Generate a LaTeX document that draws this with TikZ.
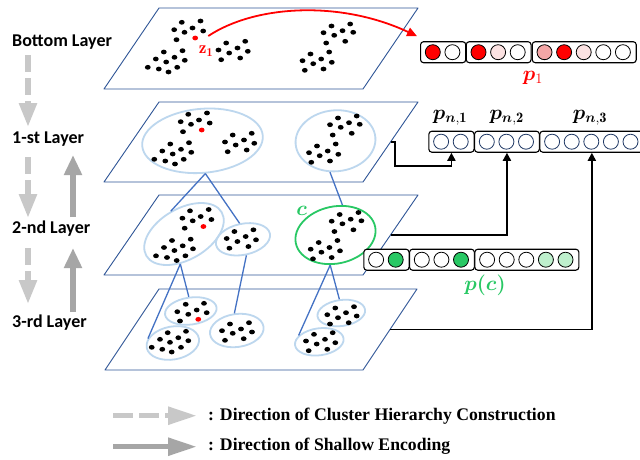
\documentclass[tikz,border=0pt]{standalone}
\usepackage{amsmath,bm}
\usepackage{fontspec}
\newfontfamily\calfont{Carlito}
\newfontfamily\timesfont{Liberation Serif}
\usetikzlibrary{arrows.meta,shapes.geometric,calc}
\definecolor{planeblue}{RGB}{47,85,151}
\definecolor{linkblue}{RGB}{68,114,196}
\definecolor{clublue}{RGB}{189,215,238}
\definecolor{cgreen}{RGB}{40,200,100}
\definecolor{lgreen}{RGB}{190,240,205}
\definecolor{cred}{RGB}{255,0,0}
\definecolor{lpink}{RGB}{252,226,226}
\definecolor{mpink}{RGB}{244,166,166}
\definecolor{navy}{RGB}{31,56,100}
\definecolor{dgrey}{RGB}{200,200,200}
\definecolor{sgrey}{RGB}{166,166,166}
\newcommand{\vecbox}[6]{%
  \node[vbox, minimum width={#4*19.6pt+6pt}] (#1) at (#2,#3) {};
  \foreach \col [count=\i] in {#6} {\node[cir, draw=#5, fill=\col] (#1-\i) at ([xshift={12.8pt+(\i-1)*19.6pt}]#1.west) {};}
}
\newcommand{\basedots}{%
  \foreach \x/\y in {188.3/114.3,207/113,180.7/121.7,191/124.3,199/120,209.7/123,183/131.7,
    170.3/144,189/142.7,162.3/151,172.7/154,181/149.3,191.3/152.3,154.3/159.3,165.3/161,175/164,183.7/159.3,
    232.7/135,251.7/133.3,225/142,235.7/145,244/140,254.3/143.3,227.7/151.7,246.7/150,
    338/118,356.7/116,330/124.7,340.7/127.3,349/122.7,359.7/124.3,332.7/135,351.7/133.3,
    317/146,335.7/144,309/152.7,319.7/155.7,327.7/151,338.3/154.3,311.3/162.3,330/161}
    {\fill (\x,\y) ellipse [x radius=2.9, y radius=2.4];}
}
\begin{document}
\begin{tikzpicture}[x=1pt,y=-1pt,
  plane/.style={draw=planeblue, line width=0.9pt, line join=round},
  clu/.style={ellipse, draw=clublue, line width=1.8pt, inner sep=0pt},
  gclu/.style={ellipse, draw=cgreen, line width=1.8pt, inner sep=0pt},
  link/.style={draw=linkblue, line width=1.3pt},
  conn/.style={draw=black, line width=1.8pt, -{Triangle[length=8pt,width=8pt]}},
  vbox/.style={draw, rounded corners=3pt, line width=1.1pt, fill=white, minimum height=21pt, inner sep=0pt, anchor=west},
  cir/.style={circle, line width=0.8pt, minimum size=15pt, inner sep=0pt},
  reddot/.style={ellipse, fill=cred, minimum width=5.8pt, minimum height=4.8pt, inner sep=0pt},
  layerlab/.style={font=\calfont\bfseries\fontsize{18}{21}\selectfont, anchor=west, inner sep=0pt},
  mlab/.style={font=\fontsize{20.74}{24}\selectfont, inner sep=0pt},
  legtext/.style={font=\timesfont\bfseries\fontsize{17.7}{20}\selectfont, anchor=west, inner sep=0pt},
  dasharr/.style={draw=dgrey, line width=5.5pt, dash pattern=on 17pt off 6pt, -{Triangle[length=24pt,width=17pt]}},
  solarr/.style={draw=sgrey, line width=6pt, -{Triangle[length=20pt,width=17pt]}},
  redarr/.style={draw=cred, line width=1.8pt, -{Triangle[length=10pt,width=9pt]}}
]
\useasboundingbox (0,0) rectangle (640,459);
\fill[white] (0,0) rectangle (640,459);

% planes
\draw[plane] (159,8) -- (418,8) -- (363,89) -- (104,89) -- cycle;
\draw[plane] (159,102) -- (418,102) -- (363,182) -- (104,182) -- cycle;
\draw[plane] (159,195) -- (418,195) -- (363,275) -- (104,275) -- cycle;
\draw[plane] (159,289) -- (417,289) -- (363,370) -- (105,370) -- cycle;
\coordinate (e2) at (390.5,142);
\coordinate (e3) at (390.5,235);
\coordinate (e4) at (390,329.5);
\coordinate (k2) at (0,166);

% layer labels
\node[layerlab] (lb0) at (12,42) {Bottom Layer};
\node[layerlab] (lb1) at (12,139) {1-st Layer};
\node[layerlab] (lb2) at (12,229) {2-nd Layer};
\node[layerlab] (lb3) at (12,323) {3-rd Layer};

% grey arrows
\coordinate (da1) at (28,55);  \coordinate (da1e) at (28,127);
\coordinate (da2) at (28,157); \coordinate (da2e) at (28,218);
\coordinate (da3) at (28,248); \coordinate (da3e) at (28,304);
\coordinate (sa1) at (73,217); \coordinate (sa1e) at (73,155);
\coordinate (sa2) at (73,312); \coordinate (sa2e) at (73,248);
\draw[dasharr] (da1) -- (da1e);
\draw[dasharr] (da2) -- (da2e);
\draw[dasharr] (da3) -- (da3e);
\draw[solarr] (sa1) -- (sa1e);
\draw[solarr] (sa2) -- (sa2e);

% bottom layer dots
\begin{scope}[shift={(-6.5,-92)}]
  \basedots
  \node[reddot] (L1red) at (201.7,130) {};
\end{scope}
\node[mlab, text=cred, font=\fontsize{17.28}{20}\selectfont] (z1) at (206,51) {$\mathbf{z}_{\mathbf{1}}$};

% layer 1 (1-st)
\node[clu, minimum width=121pt, minimum height=64pt, rotate=5] (L2a) at (202.5,140.8) {};
\node[clu, minimum width=80pt, minimum height=61pt, rotate=5] (L2b) at (335.5,140.8) {};
\basedots
\node[reddot] (L2red) at (201.7,130) {};

% layer 2 (2-nd)
\node[clu, minimum width=87pt, minimum height=51pt, rotate=30] (L3a) at (184,234) {};
\node[clu, minimum width=55pt, minimum height=31pt, rotate=12] (L3b) at (243,239.3) {};
\node[gclu, minimum width=81pt, minimum height=57pt, rotate=12] (Lg) at (335.5,235) {};
\begin{scope}[shift={(1.7,96.5)}]
  \basedots
  \node[reddot] (L3red) at (201.7,130) {};
\end{scope}
\node[mlab, text=cgreen] (clab) at (301.7,211) {$\bm{c}$};

% layer 3 (3-rd)
\node[clu, minimum width=52pt, minimum height=27pt, rotate=8] (L4a) at (190.8,311) {};
\node[clu, minimum width=53pt, minimum height=33pt, rotate=10] (L4b) at (172.8,343) {};
\node[clu, minimum width=54pt, minimum height=33pt, rotate=8] (L4c) at (236.8,330.5) {};
\node[clu, minimum width=48pt, minimum height=26pt, rotate=8] (L4d) at (341.3,313) {};
\node[clu, minimum width=49pt, minimum height=27pt, rotate=8] (L4e) at (319.3,341.8) {};
\foreach \x/\y in {185.7/304.3,204/303.3,177.3/311.7,188.3/314.3,196.7/310,206.7/312.7,180/321,
  167.7/332.7,186/331.3,160/339.3,170/342.3,178.3/337.7,188.3/340.7,151.7/347.3,162.3/349.3,171.7/352,181/347.3,
  230/324,249/322.7,222/330.7,232.7/333.3,241/329,252/332,225/340.3,243.7/338.7,
  335.3/308,354/306.7,327.3/314.7,338/317.7,346/312.7,356.7/316,330/324,348.7/322.7,
  314/334.3,332.7/332.7,306/341,316.7/344,325/339.3,335.3/342.7,308.7/350.7,327.3/349.3}
  {\fill (\x,\y) ellipse [x radius=2.9, y radius=2.4];}
\node[reddot] (L4red) at (198.3,319.3) {};

% hierarchy links
\draw[link] (L2a.south) -- (L3a.north);
\draw[link] (L2a.south) -- (L3b.north);
\draw[link] (L2b.255) -- (Lg.65);
\draw[link] (L3a.233) -- (L4b.160);
\draw[link] (L3a.233) -- (L4a.north);
\draw[link] (L3b.south) -- (L4c.north);
\draw[link] (Lg.248) -- (L4e.155);
\draw[link] (Lg.248) -- (L4d.north);

% vectors
\vecbox{p1a}{420}{52.2}{2}{black}{cred,white}
\vecbox{p1b}{465.7}{52.2}{3}{black}{cred,lpink,white}
\vecbox{p1c}{531.7}{52.2}{5}{black}{mpink,cred,lpink,white,white}
\node[mlab, text=cred] (p1lab) at (533,78) {$\bm{p}_{1}$};

\vecbox{pn1}{428.3}{141.7}{2}{navy}{white,white}
\vecbox{pn2}{474}{141.7}{3}{navy}{white,white,white}
\vecbox{pn3}{539.3}{141.7}{5}{navy}{white,white,white,white,white}
\node[mlab] (pn1lab) at (450,118) {$\bm{p}_{\bm{n},\mathbf{1}}$};
\node[mlab] (pn2lab) at (506.7,118) {$\bm{p}_{\bm{n},\mathbf{2}}$};
\node[mlab] (pn3lab) at (590,118) {$\bm{p}_{\bm{n},\mathbf{3}}$};

\vecbox{pc1}{363.3}{259.7}{2}{black}{white,cgreen}
\vecbox{pc2}{409}{259.7}{3}{black}{white,white,cgreen}
\vecbox{pc3}{474.3}{259.7}{5}{black}{white,white,white,lgreen,lgreen}
\node[mlab, text=cgreen] (pclab) at (485,285) {$\bm{p(c)}$};

% red arrow
\draw[redarr] ([xshift=10pt,yshift=2pt]L1red.east) .. controls (255,5) and (340,0) .. ([xshift=-3pt,yshift=5pt]p1a.north west);

% encoding connectors
\draw[conn] (e2) -- ++(4.5,0) |- (pn1.south |- k2) -- (pn1.south);
\draw[conn] (e3) -| (pn2.south);
\draw[conn] (e4) -| (pn3.south);

% legend
\coordinate (lg1) at (113,415.7); \coordinate (lg1e) at (197,415.7);
\coordinate (lg2) at (113,446.7); \coordinate (lg2e) at (197,446.7);
\draw[draw=dgrey, line width=5.5pt, dash pattern=on 20pt off 6pt, -{Triangle[length=29pt,width=17pt]}] (lg1) -- (lg1e);
\draw[draw=sgrey, line width=5.5pt, -{Triangle[length=29pt,width=17pt]}] (lg2) -- (lg2e);
\node[legtext] (lt1) at (208,415.7) {: Direction of Cluster Hierarchy Construction};
\node[legtext] (lt2) at (208,446.7) {: Direction of Shallow Encoding};
\end{tikzpicture}
\end{document}
